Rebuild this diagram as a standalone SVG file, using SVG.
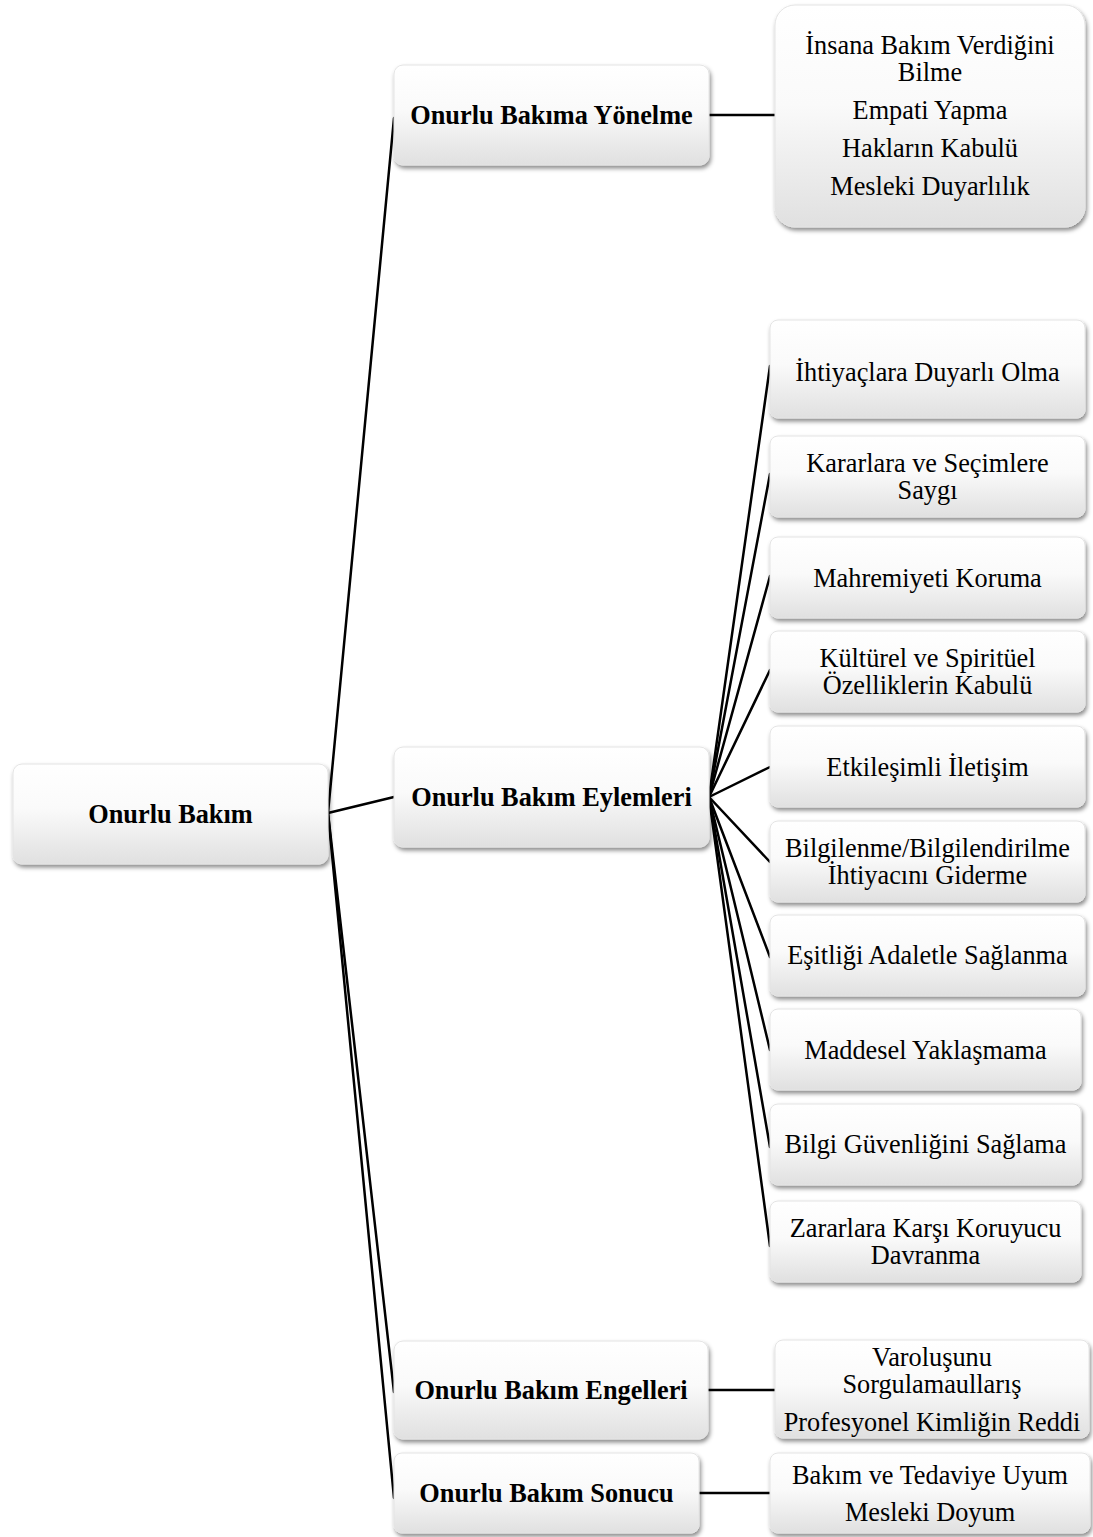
<svg xmlns="http://www.w3.org/2000/svg" width="1093" height="1537" viewBox="0 0 1093 1537">
<defs>
<linearGradient id="g" x1="0" y1="0" x2="0" y2="1">
<stop offset="0" stop-color="#ffffff"/>
<stop offset="0.45" stop-color="#fafafa"/>
<stop offset="1" stop-color="#e0e0e0"/>
</linearGradient>
<filter id="sh" x="-10%" y="-10%" width="125%" height="130%">
<feDropShadow dx="1.5" dy="3" stdDeviation="2" flood-color="#000" flood-opacity="0.45"/>
</filter>
</defs>
<style>
.box{fill:url(#g);stroke:#e4e4e4;stroke-width:1;filter:url(#sh)}
.t{font-family:"Liberation Serif","Times New Roman",serif;font-size:26.3px;fill:#000;text-anchor:middle}
.b{font-weight:bold}
.c line{stroke:#000;stroke-width:2.5;stroke-linecap:round}
</style>
<rect width="1093" height="1537" fill="#fff"/>
<g id="connectors" class="c">
<line x1="328" y1="813" x2="394" y2="118"/>
<line x1="328" y1="813" x2="394" y2="797"/>
<line x1="328" y1="813" x2="394" y2="1392"/>
<line x1="328" y1="813" x2="394" y2="1498"/>
<line x1="709" y1="115" x2="775" y2="115"/>
<line x1="709" y1="797" x2="770" y2="366"/>
<line x1="709" y1="797" x2="770" y2="474"/>
<line x1="709" y1="797" x2="770" y2="576"/>
<line x1="709" y1="797" x2="770" y2="670"/>
<line x1="709" y1="797" x2="770" y2="767"/>
<line x1="709" y1="797" x2="770" y2="862"/>
<line x1="709" y1="797" x2="770" y2="957"/>
<line x1="709" y1="797" x2="770" y2="1050"/>
<line x1="709" y1="797" x2="770" y2="1147"/>
<line x1="709" y1="797" x2="770" y2="1246"/>
<line x1="708" y1="1390" x2="775" y2="1390"/>
<line x1="699" y1="1493" x2="770" y2="1493"/>
</g>
<g id="root">
<rect class="box" x="13" y="764" width="315" height="100" rx="9"/>
<text class="t b" x="170.5" y="823">Onurlu Bakım</text>
</g>
<g id="yonelme">
<rect class="box" x="394" y="65" width="315" height="100" rx="9"/>
<text class="t b" x="551.5" y="124">Onurlu Bakıma Yönelme</text>
</g>
<g id="eylemleri">
<rect class="box" x="394" y="747" width="315" height="100" rx="9"/>
<text class="t b" x="551.5" y="806">Onurlu Bakım Eylemleri</text>
</g>
<g id="engelleri">
<rect class="box" x="394" y="1341" width="314" height="98" rx="9"/>
<text class="t b" x="551" y="1399">Onurlu Bakım Engelleri</text>
</g>
<g id="sonucu">
<rect class="box" x="394" y="1453" width="305" height="80" rx="8"/>
<text class="t b" x="546.5" y="1502">Onurlu Bakım Sonucu</text>
</g>
<g id="yonelme-items">
<rect class="box" x="775" y="5" width="310" height="222" rx="20"/>
<text class="t" x="930" y="54">İnsana Bakım Verdiğini</text>
<text class="t" x="930" y="81">Bilme</text>
<text class="t" x="930" y="119">Empati Yapma</text>
<text class="t" x="930" y="157">Hakların Kabulü</text>
<text class="t" x="930" y="195">Mesleki Duyarlılık</text>
</g>
<g id="e1">
<rect class="box" x="770" y="320" width="315" height="98" rx="8"/>
<text class="t" x="927.5" y="381">İhtiyaçlara Duyarlı Olma</text>
</g>
<g id="e2">
<rect class="box" x="770" y="436" width="315" height="81" rx="8"/>
<text class="t" x="927.5" y="472">Kararlara ve Seçimlere</text>
<text class="t" x="927.5" y="499">Saygı</text>
</g>
<g id="e3">
<rect class="box" x="770" y="537" width="315" height="81" rx="8"/>
<text class="t" x="927.5" y="587">Mahremiyeti Koruma</text>
</g>
<g id="e4">
<rect class="box" x="770" y="631" width="315" height="81" rx="8"/>
<text class="t" x="927.5" y="667">Kültürel ve Spiritüel</text>
<text class="t" x="927.5" y="694">Özelliklerin Kabulü</text>
</g>
<g id="e5">
<rect class="box" x="770" y="726" width="315" height="81" rx="8"/>
<text class="t" x="927.5" y="776">Etkileşimli İletişim</text>
</g>
<g id="e6">
<rect class="box" x="770" y="821" width="315" height="81" rx="8"/>
<text class="t" x="927.5" y="857">Bilgilenme/Bilgilendirilme</text>
<text class="t" x="927.5" y="884">İhtiyacını Giderme</text>
</g>
<g id="e7">
<rect class="box" x="770" y="915" width="315" height="81" rx="8"/>
<text class="t" x="927.5" y="964">Eşitliği Adaletle Sağlanma</text>
</g>
<g id="e8">
<rect class="box" x="770" y="1009" width="311" height="81" rx="8"/>
<text class="t" x="925.5" y="1059">Maddesel Yaklaşmama</text>
</g>
<g id="e9">
<rect class="box" x="770" y="1104" width="311" height="81" rx="8"/>
<text class="t" x="925.5" y="1153">Bilgi Güvenliğini Sağlama</text>
</g>
<g id="e10">
<rect class="box" x="770" y="1201" width="311" height="81" rx="8"/>
<text class="t" x="925.5" y="1237">Zararlara Karşı Koruyucu</text>
<text class="t" x="925.5" y="1264">Davranma</text>
</g>
<g id="engelleri-items">
<rect class="box" x="775" y="1340" width="314" height="98" rx="8"/>
<text class="t" x="932" y="1366">Varoluşunu</text>
<text class="t" x="932" y="1393">Sorgulamaullarış</text>
<text class="t" x="932" y="1431">Profesyonel Kimliğin Reddi</text>
</g>
<g id="sonucu-items">
<rect class="box" x="770" y="1453" width="320" height="80" rx="8"/>
<text class="t" x="930" y="1484">Bakım ve Tedaviye Uyum</text>
<text class="t" x="930" y="1521">Mesleki Doyum</text>
</g>
</svg>
